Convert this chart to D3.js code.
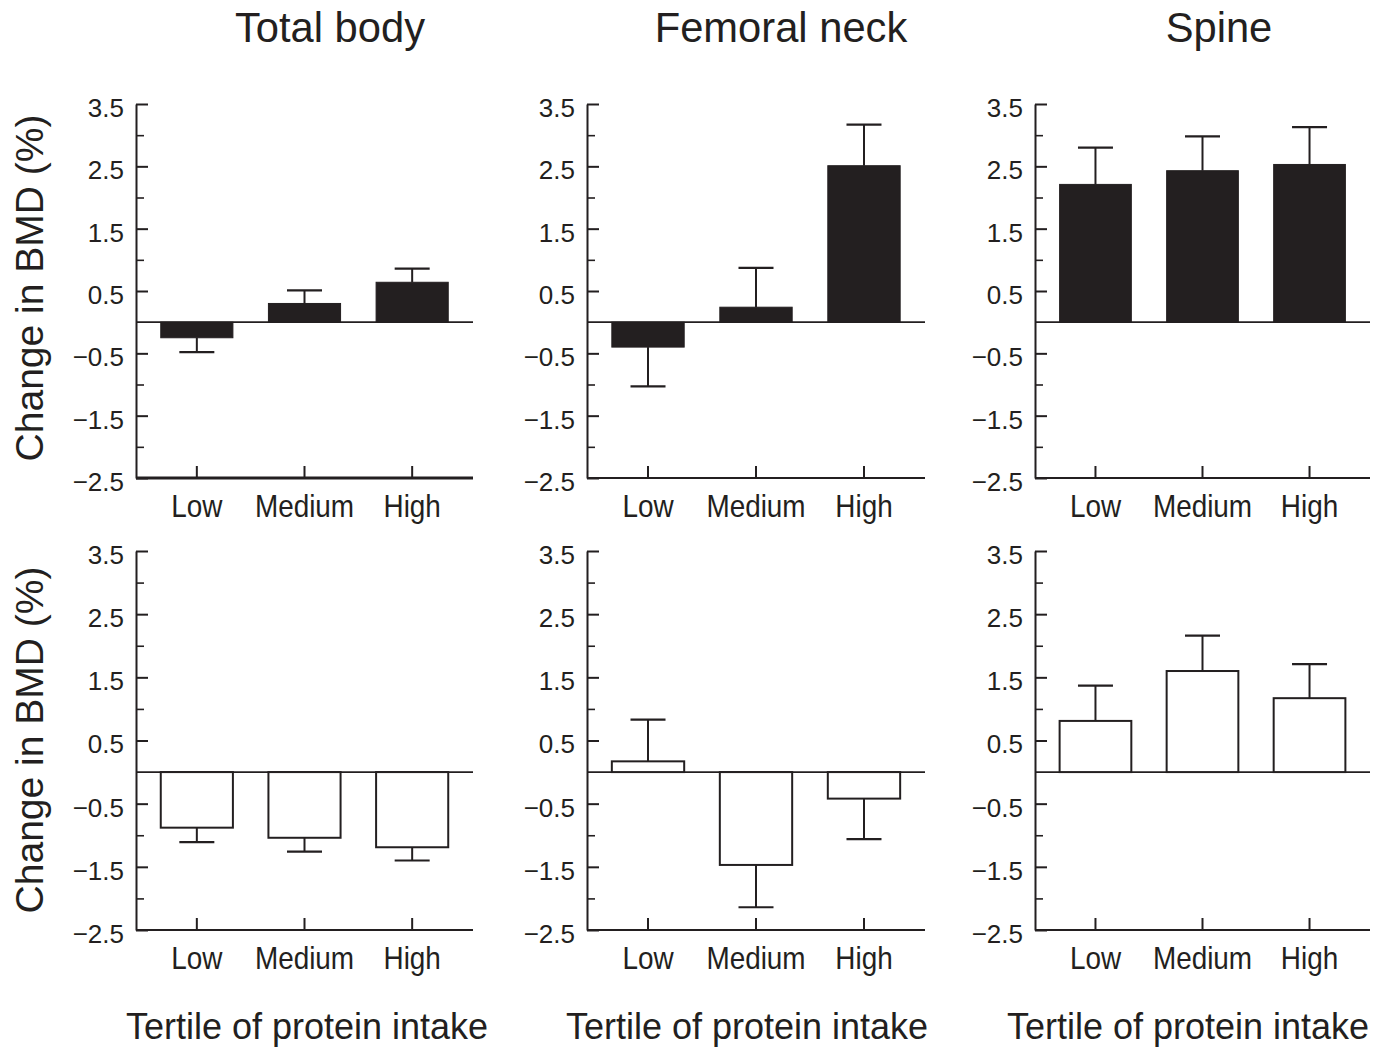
<!DOCTYPE html>
<html>
<head>
<meta charset="utf-8">
<script src="https://cdn.jsdelivr.net/npm/d3@7"></script>
<style>
  html, body { margin: 0; padding: 0; background: #fff; }
  svg { display: block; }
  text { font-family: "Liberation Sans", Arial, Helvetica, sans-serif; fill: #231f20; }
</style>
</head>
<body>
<svg id="chart" width="1373" height="1047"></svg>
<script>
// ---- data ----
const sites = ["Total body", "Femoral neck", "Spine"];
const tertiles = ["Low", "Medium", "High"];
const yTicks = [3.5, 2.5, 1.5, 0.5, -0.5, -1.5, -2.5];
const yMinorTicks = [3, 2, 1, -1, -2];
// top row (filled bars)
const totalBodyTop = [-0.25, 0.30, 0.64];
const totalBodyTopErr = [0.23, 0.21, 0.22];
const femoralNeckTop = [-0.40, 0.24, 2.51];
const femoralNeckTopErr = [0.63, 0.63, 0.66];
const spineTop = [2.21, 2.43, 2.53];
const spineTopErr = [0.59, 0.55, 0.60];
// bottom row (open bars)
const totalBodyBottom = [-0.88, -1.04, -1.19];
const totalBodyBottomErr = [0.23, 0.22, 0.21];
const femoralNeckBottom = [0.17, -1.47, -0.42];
const femoralNeckBottomErr = [0.66, 0.67, 0.64];
const spineBottom = [0.81, 1.60, 1.17];
const spineBottomErr = [0.56, 0.56, 0.54];

const yLabel = "Change in BMD (%)";
const xLabel = "Tertile of protein intake";

const panels = [
  {row: 0, col: 0, vals: totalBodyTop, err: totalBodyTopErr, filled: true},
  {row: 0, col: 1, vals: femoralNeckTop, err: femoralNeckTopErr, filled: true},
  {row: 0, col: 2, vals: spineTop, err: spineTopErr, filled: true},
  {row: 1, col: 0, vals: totalBodyBottom, err: totalBodyBottomErr, filled: false},
  {row: 1, col: 1, vals: femoralNeckBottom, err: femoralNeckBottomErr, filled: false},
  {row: 1, col: 2, vals: spineBottom, err: spineBottomErr, filled: false}
];

// ---- layout ----
const colX = [[136, 473], [587, 925], [1035, 1370]];
const rowY = [[104, 478], [551, 930]];
const ink = "#231f20";

const svg = d3.select("#chart");

function txt(g, s, x, y, size, sx, anchor, rot) {
  const t = g.append("text")
    .attr("transform", `translate(${x},${y})` + (rot ? ` rotate(${rot})` : "") + ` scale(${sx},1)`)
    .attr("text-anchor", anchor || "middle")
    .style("font-size", size + "px")
    .text(s);
  return t;
}

// titles
const titleCenters = [330, 781, 1219];
sites.forEach((s, i) => txt(svg, s, titleCenters[i], 42, 43, 0.97));

// y labels
[288, 740].forEach(cy => txt(svg, yLabel, 43, cy, 39, 1, "middle", -90));

// x labels
const xLabCenters = [307, 747, 1188];
xLabCenters.forEach(cx => txt(svg, xLabel, cx, 1039, 36, 1));

panels.forEach(p => {
  const [x0, x1] = colX[p.col];
  const [yTop, yBot] = rowY[p.row];
  const y = d3.scaleLinear().domain([-2.5, 3.5]).range([yBot, yTop]);
  const x = d3.scaleBand().domain(tertiles).range([x0, x1]).paddingInner(0.33).paddingOuter(0.23);
  const g = svg.append("g");

  // zero line
  g.append("line")
    .attr("x1", x0).attr("x2", x1)
    .attr("y1", y(0)).attr("y2", y(0))
    .attr("stroke", ink).attr("stroke-width", 1.6);

  // bars
  const data = tertiles.map((c, i) => ({c, v: p.vals[i], e: p.err[i]}));
  g.selectAll("rect.bar").data(data).join("rect")
    .attr("class", "bar")
    .attr("x", d => x(d.c))
    .attr("width", x.bandwidth())
    .attr("y", d => y(Math.max(0, d.v)))
    .attr("height", d => Math.abs(y(d.v) - y(0)))
    .attr("fill", p.filled ? ink : "#fff")
    .attr("stroke", ink)
    .attr("stroke-width", p.filled ? 1 : 2);

  // error bars (one-sided, away from zero)
  const capW = 35;
  g.selectAll("line.err").data(data).join("line")
    .attr("class", "err")
    .attr("x1", d => x(d.c) + x.bandwidth() / 2)
    .attr("x2", d => x(d.c) + x.bandwidth() / 2)
    .attr("y1", d => y(d.v))
    .attr("y2", d => y(d.v + Math.sign(d.v) * d.e))
    .attr("stroke", ink).attr("stroke-width", 2);
  g.selectAll("line.cap").data(data).join("line")
    .attr("class", "cap")
    .attr("x1", d => x(d.c) + x.bandwidth() / 2 - capW / 2)
    .attr("x2", d => x(d.c) + x.bandwidth() / 2 + capW / 2)
    .attr("y1", d => y(d.v + Math.sign(d.v) * d.e))
    .attr("y2", d => y(d.v + Math.sign(d.v) * d.e))
    .attr("stroke", ink).attr("stroke-width", 2.2);

  // y axis major
  const ya = g.append("g").attr("transform", `translate(${x0},0)`)
    .call(d3.axisLeft(y).tickValues(yTicks).tickFormat(d3.format(".1f"))
      .tickSizeInner(-12).tickSizeOuter(0).tickPadding(12));
  ya.select(".domain").attr("stroke", ink).attr("stroke-width", 2);
  ya.selectAll(".tick line").attr("stroke", ink).attr("stroke-width", 2);
  ya.selectAll(".tick text").style("font-size", "26px").style("font-family", "Liberation Sans, Arial, sans-serif")
    .attr("fill", ink).attr("dy", "0.48em");

  // y axis minor
  const ym = g.append("g").attr("transform", `translate(${x0},0)`)
    .call(d3.axisLeft(y).tickValues(yMinorTicks).tickFormat("").tickSizeInner(-8).tickSizeOuter(0));
  ym.select(".domain").remove();
  ym.selectAll(".tick line").attr("stroke", ink).attr("stroke-width", 1.6);

  // x axis
  const xa = g.append("g").attr("transform", `translate(0,${yBot})`)
    .call(d3.axisBottom(x).tickSizeInner(-12).tickSizeOuter(0).tickPadding(17));
  xa.select(".domain").attr("stroke", ink).attr("stroke-width", p.row === 0 && p.col === 0 ? 3 : 2)
    .attr("d", `M${x0},0H${x1}`);
  xa.selectAll(".tick line").attr("stroke", ink).attr("stroke-width", 2);
  xa.selectAll(".tick text").style("font-size", "31px").style("font-family", "Liberation Sans, Arial, sans-serif")
    .attr("fill", ink).attr("transform", "scale(0.9,1)");
});
</script>
</body>
</html>
